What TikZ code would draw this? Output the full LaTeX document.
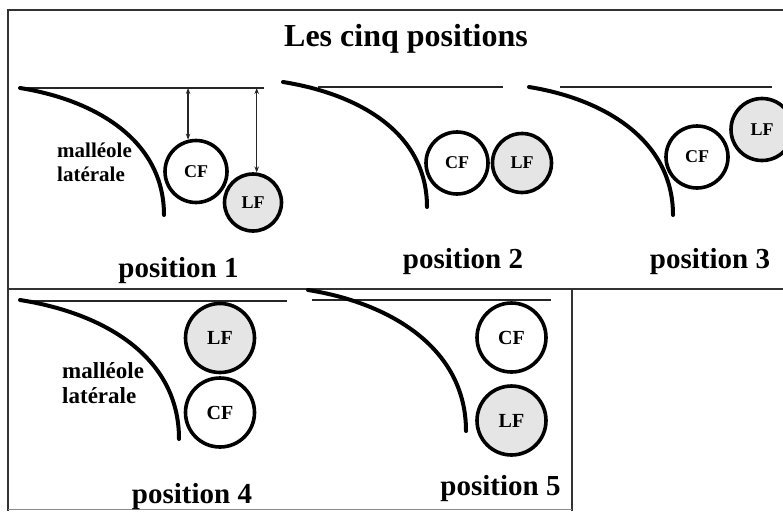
\documentclass[tikz,border=0pt]{standalone}
\usepackage{fontspec}
\setmainfont{Liberation Serif}
\usetikzlibrary{positioning, arrows.meta}

\begin{document}
\begin{tikzpicture}[x=1pt, y=-1pt,
  frame/.style={draw=black!80, line width=1.8pt},
  refline/.style={draw=black!85, line width=1.3pt},
  bone/.style={draw=black, line width=4pt, line cap=round},
  cf/.style={circle, draw=black, line width=3.6pt, inner sep=0pt, minimum size=62pt, font=\bfseries\fontsize{18}{18}\selectfont},
  lf/.style={cf, fill=black!10},
  big/.style={minimum size=69pt, font=\bfseries\fontsize{20}{20}\selectfont},
  dist/.style={{Stealth[length=6pt,width=4.5pt]}-{Stealth[length=6pt,width=4.5pt]}, line width=1.2pt, draw=black!85},
  poslabel/.style={anchor=base, inner sep=0pt, font=\bfseries\fontsize{29}{29}\selectfont},
  bonelabel/.style={anchor=west, align=left, inner sep=0pt}]

\useasboundingbox (0,0) rectangle (783,511);

% cadre
\draw[frame] (8,511) -- (8,10) -- (783,10);
\draw[frame] (8,289) -- (783,289);
\draw[frame] (572,289) -- (572,511);
\draw[draw=black!45, line width=1pt] (8,509) -- (572,509);

\node[anchor=base, font=\bfseries\fontsize{32}{32}\selectfont] (title) at (406,47) {Les cinq positions};

% position 1
\coordinate (lnA) at (20,88);
\draw[refline] (lnA) -- (264,88);
\draw[bone] (20,88) .. controls +(75,12) and +(0,-75) .. (164,215);
\node[cf] (cfA) at (196,171.5) {CF};
\node[lf, minimum size=57pt] (lfA) at (253,202.5) {LF};
\draw[dist] (cfA.104 |- lnA) -- (cfA.104);
\draw[dist] (lfA.83 |- lnA) -- (lfA.83);
\node[bonelabel, font=\bfseries\fontsize{21}{24}\selectfont] (malA) at (57,162) {malléole\\latérale};
\node[poslabel] (posA) at (178.5,277) {position 1};

% position 2
\coordinate (lnB) at (318,87);
\draw[refline] (lnB) -- (503,87);
\draw[bone] (283,82) .. controls +(75,12) and +(0,-75) .. (427,207);
\node[cf] (cfB) at (457,163) {CF};
\node[lf, minimum size=59pt] (lfB) at (522,163) {LF};
\node[poslabel] (posB) at (463,268) {position 2};

% position 3
\coordinate (lnC) at (560,87);
\draw[refline] (lnC) -- (772,87);
\draw[bone] (529,87) .. controls +(75,12) and +(0,-75) .. (673,215);
\node[cf] (cfC) at (697,157) {CF};
\node[lf] (lfC) at (762,129.5) {LF};
\node[poslabel] (posC) at (710,268) {position 3};

% position 4
\coordinate (lnD) at (20,301);
\draw[refline] (lnD) -- (287,301);
\draw[bone] (20,300) .. controls +(83,13) and +(0,-83) .. (179,439);
\node[lf, big] (lfD) at (220,338) {LF};
\node[cf, big] (cfD) at (220,412.5) {CF};
\node[bonelabel, font=\bfseries\fontsize{23}{25}\selectfont] (malD) at (62,383) {malléole\\latérale};
\node[poslabel] (posD) at (192,503) {position 4};

% position 5
\coordinate (lnE) at (312,300);
\draw[refline] (lnE) -- (551,300);
\draw[bone] (308,290) .. controls +(82,13) and +(0,-83) .. (466,431);
\node[cf, big] (cfE) at (511.5,337.5) {CF};
\node[lf, big] (lfE) at (511.5,420.5) {LF};
\node[poslabel] (posE) at (500.5,495) {position 5};
\end{tikzpicture}
\end{document}
